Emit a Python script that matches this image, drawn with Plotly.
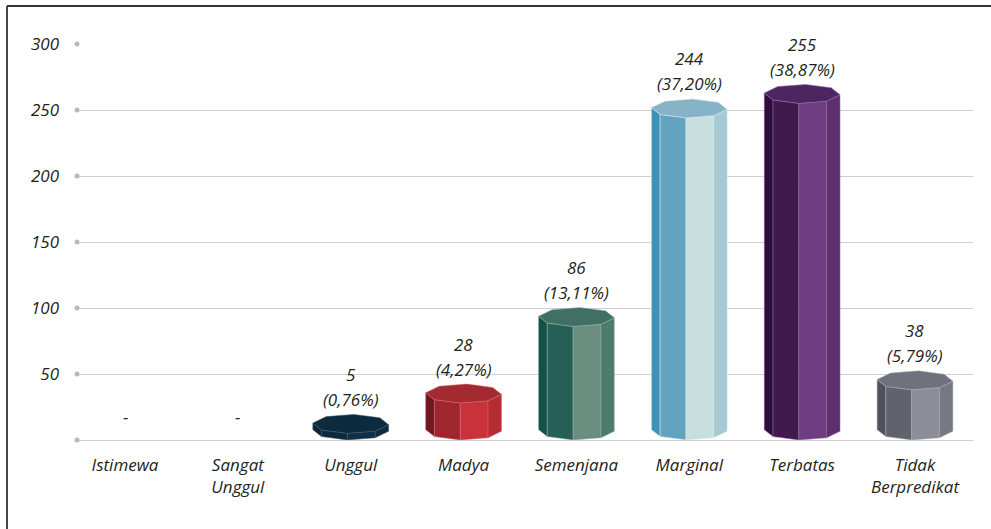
import math
import plotly.graph_objects as go

# ---------------- data ----------------
categories = ["Istimewa", "Sangat Unggul", "Unggul", "Madya", "Semenjana",
              "Marginal", "Terbatas", "Tidak Berpredikat"]
tick_text = ["Istimewa", "Sangat<br>Unggul", "Unggul", "Madya", "Semenjana",
             "Marginal", "Terbatas", "Tidak<br>Berpredikat"]
values = [0, 0, 5, 28, 86, 244, 255, 38]
count_labels = ["-", "-", "5", "28", "86", "244", "255", "38"]
pct_labels = ["", "", "(0,76%)", "(4,27%)", "(13,11%)", "(37,20%)", "(38,87%)", "(5,79%)"]
y_ticks = [50, 100, 150, 200, 250, 300]
grid_vals = [0, 50, 100, 150, 200, 250, 300]

# ---------------- styles ----------------
# per bar: [top, face1 (leftmost), face2, face3, face4, edge]
bar_colors = [
    None,
    None,
    ["#0c2b3e", "#0a2435", "#0d2a3d", "#10304a", "#0e2c40", "#3b5a6c"],
    ["#a32a31", "#6f1a21", "#9e262d", "#c9313b", "#b42c34", "#d9646b"],
    ["#416f64", "#135248", "#255f56", "#6a8d7f", "#4f7a6e", "#8fb0a3"],
    ["#86b4c6", "#3d93b3", "#62a3bf", "#c8dfe0", "#a6c9d3", "#d8ecf0"],
    ["#4d2560", "#2d0e3a", "#401a4d", "#6f3d82", "#5e2f6e", "#9a6aab"],
    ["#6f727c", "#4f525d", "#60636e", "#8b8e98", "#767984", "#a9acb4"],
]
HALF_W = 0.337      # half width of prism, category units
DEPTH = 7.2         # half depth of top ellipse, value units
ROT = -5.0          # rotation of octagon, degrees
FONT = "Open Sans"
TXT = "#231f20"

x_range = [-0.4253, 7.514]

fig = go.Figure()


def octa(cx, base, k):
    ang = math.radians(ROT + 45 * k)
    return cx + HALF_W * math.cos(ang), base + DEPTH + DEPTH * math.sin(ang)


for i, v in enumerate(values):
    cols = bar_colors[i]
    if not v or cols is None:
        continue
    for f in range(4):
        k0, k1 = 4 + f, 5 + f
        t0 = octa(i, v, k0)
        t1 = octa(i, v, k1)
        b1 = octa(i, 0, k1)
        b0 = octa(i, 0, k0)
        xs = [t0[0], t1[0], b1[0], b0[0], t0[0]]
        ys = [t0[1], t1[1], b1[1], b0[1], t0[1]]
        fig.add_trace(go.Scatter(x=xs, y=ys, mode="lines", fill="toself",
                                 fillcolor=cols[1 + f],
                                 line=dict(color=cols[5], width=0.5),
                                 hoverinfo="skip", showlegend=False))
    pts = [octa(i, v, k) for k in range(9)]
    fig.add_trace(go.Scatter(x=[p[0] for p in pts], y=[p[1] for p in pts],
                             mode="lines", fill="toself", fillcolor=cols[0],
                             line=dict(color=cols[5], width=0.5),
                             hoverinfo="skip", showlegend=False))

# grid dots at left end of gridlines
fig.add_trace(go.Scatter(x=[x_range[0]] * len(grid_vals), y=grid_vals, mode="markers",
                         marker=dict(size=5, color="#b9b9b9"), cliponaxis=False,
                         hoverinfo="skip", showlegend=False))

lab_font = dict(family=FONT, size=17, color=TXT, style="italic")
for i, v in enumerate(values):
    top_back = v + 2 * DEPTH
    if pct_labels[i]:
        fig.add_annotation(x=i, y=top_back, text=pct_labels[i], showarrow=False,
                           yanchor="middle", yshift=15, font=lab_font)
        fig.add_annotation(x=i, y=top_back, text=count_labels[i], showarrow=False,
                           yanchor="middle", yshift=40, font=lab_font)
    else:
        fig.add_annotation(x=i, y=top_back, text=count_labels[i], showarrow=False,
                           yanchor="middle", yshift=4, font=lab_font)

# frame lines (left and top border)
fig.add_shape(type="line", xref="paper", yref="paper", x0=-0.0781, x1=-0.0781,
              y0=1.096, y1=-0.4, line=dict(color="#333333", width=1.8))
fig.add_shape(type="line", xref="paper", yref="paper", x0=-0.0781, x1=1.1,
              y0=1.096, y1=1.096, line=dict(color="#333333", width=1.8))

fig.update_layout(
    width=991, height=529,
    margin=dict(l=77, r=18, t=44, b=89),
    paper_bgcolor="white", plot_bgcolor="white",
    font=lab_font,
    showlegend=False,
    xaxis=dict(range=x_range, tickmode="array", tickvals=list(range(len(categories))),
               ticktext=tick_text, showgrid=False, zeroline=False, showline=False,
               ticks="", ticklabelstandoff=13, tickfont=lab_font),
    yaxis=dict(range=[0, 300], tickmode="array", tickvals=y_ticks,
               showgrid=True, gridcolor="#cfcfcf", gridwidth=1,
               zeroline=True, zerolinecolor="#cfcfcf", zerolinewidth=1,
               showline=False, ticks="", ticklabelstandoff=17, tickfont=lab_font),
)

fig.write_html("out.html", config={"displayModeBar": False},
               post_script="document.body.style.margin='0';")
